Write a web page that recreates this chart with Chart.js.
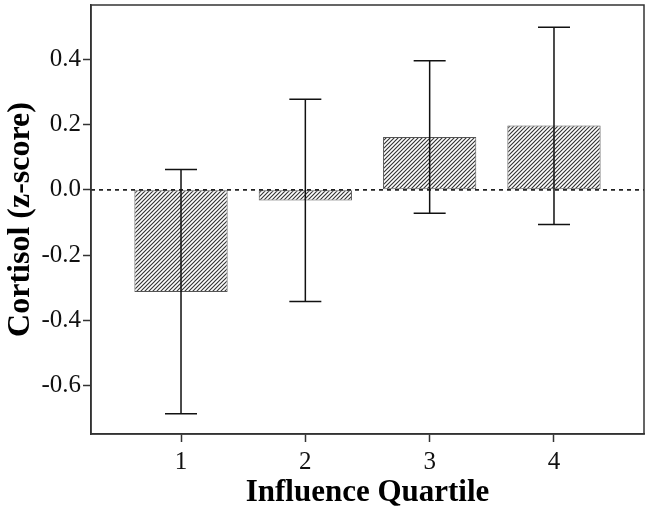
<!DOCTYPE html>
<html>
<head>
<meta charset="utf-8">
<script src="https://cdn.jsdelivr.net/npm/chart.js@4/dist/chart.umd.min.js"></script>
<style>
html,body{margin:0;padding:0;background:#fff;}
#wrap{width:650px;height:512px;position:relative;}
</style>
</head>
<body>
<div id="wrap"><canvas id="c" width="650" height="512"></canvas></div>
<script>
// ---- data ----
const quartiles = [1, 2, 3, 4];
const meanCortisol = [-0.313, -0.033, 0.162, 0.197];
const ciLower = [-0.686, -0.342, -0.072, -0.106];
const ciUpper = [0.062, 0.277, 0.395, 0.498];
const yTickValues = [-0.6, -0.4, -0.2, 0.0, 0.2, 0.4];
const xTickValues = [1, 2, 3, 4];
const xTitle = 'Influence Quartile';
const yTitle = 'Cortisol (z-score)';

// hatch pattern
function hatch() {
  const s = 4;
  const p = document.createElement('canvas');
  p.width = s; p.height = s;
  const g = p.getContext('2d');
  g.fillStyle = '#fff';
  g.fillRect(0, 0, s, s);
  g.strokeStyle = '#333';
  g.lineWidth = 1.15;
  g.beginPath();
  g.moveTo(0, s); g.lineTo(s, 0);
  g.moveTo(-1, 1); g.lineTo(1, -1);
  g.moveTo(s - 1, s + 1); g.lineTo(s + 1, s - 1);
  g.stroke();
  return document.getElementById('c').getContext('2d').createPattern(p, 'repeat');
}

const extras = {
  id: 'extras',
  afterDatasetsDraw(chart) {
    const ctx = chart.ctx;
    const xs = chart.scales.x, ys = chart.scales.y;
    const a = chart.chartArea;
    ctx.save();
    // zero reference line
    const y0 = ys.getPixelForValue(0);
    ctx.strokeStyle = '#222';
    ctx.lineWidth = 1.8;
    ctx.setLineDash([4, 4]);
    ctx.beginPath();
    ctx.moveTo(a.left, y0); ctx.lineTo(a.right, y0);
    ctx.stroke();
    ctx.setLineDash([]);
    // error bars
    ctx.strokeStyle = '#111';
    ctx.lineWidth = 1.5;
    const capHalf = 16;
    quartiles.forEach((q, i) => {
      const x = xs.getPixelForValue(q);
      const yl = ys.getPixelForValue(ciLower[i]);
      const yu = ys.getPixelForValue(ciUpper[i]);
      ctx.beginPath();
      ctx.moveTo(x, yl); ctx.lineTo(x, yu);
      ctx.moveTo(x - capHalf, yl); ctx.lineTo(x + capHalf, yl);
      ctx.moveTo(x - capHalf, yu); ctx.lineTo(x + capHalf, yu);
      ctx.stroke();
    });
    // frame
    ctx.strokeStyle = '#333';
    ctx.lineWidth = 1.5;
    ctx.strokeRect(a.left, a.top, a.right - a.left, a.bottom - a.top);
    ctx.restore();
  }
};

const font = 'Liberation Serif';
new Chart(document.getElementById('c'), {
  type: 'bar',
  data: {
    datasets: [{
      data: quartiles.map((q, i) => ({x: q, y: meanCortisol[i]})),
      backgroundColor: hatch(),
      borderColor: '#555',
      borderWidth: 1,
      borderSkipped: false,
      barPercentage: 0.75,
      categoryPercentage: 1
    }]
  },
  options: {
    responsive: false,
    animation: false,
    layout: {padding: {top: 5, right: 6, left: 0, bottom: 0}},
    plugins: {legend: {display: false}, tooltip: {enabled: false}},
    scales: {
      x: {
        type: 'linear',
        offset: false,
        min: 0.276, max: 4.724,
        afterBuildTicks(s) { s.ticks = xTickValues.map(v => ({value: v})); },
        afterFit(s) { s.height = 78; s.paddingLeft = 0; s.paddingRight = 0; },
        grid: {offset: false, drawOnChartArea: false, drawTicks: true, tickLength: 8, color: '#333', tickWidth: 1.5},
        border: {display: true, color: '#333', width: 1.5},
        ticks: {color: '#111', padding: 5, font: {family: font, size: 25}, callback: v => String(v)},
        title: {display: true, text: xTitle, color: '#000', font: {family: font, size: 31, weight: 'bold'}, padding: {top: 0, bottom: 0}}
      },
      y: {
        min: -0.748, max: 0.566,
        afterBuildTicks(s) { s.ticks = yTickValues.map(v => ({value: v})); },
        afterFit(s) { s.width = 91; s.paddingTop = 0; s.paddingBottom = 0; },
        grid: {drawOnChartArea: false, drawTicks: true, tickLength: 8, color: '#333', tickWidth: 1.5},
        border: {display: true, color: '#333', width: 1.5},
        ticks: {color: '#111', padding: 2, font: {family: font, size: 25}, callback: v => Number(v).toFixed(1)},
        title: {display: true, text: yTitle, color: '#000', font: {family: font, size: 32, weight: 'bold'}, padding: {top: 2, bottom: 0}}
      }
    }
  },
  plugins: [extras]
});
</script>
</body>
</html>
